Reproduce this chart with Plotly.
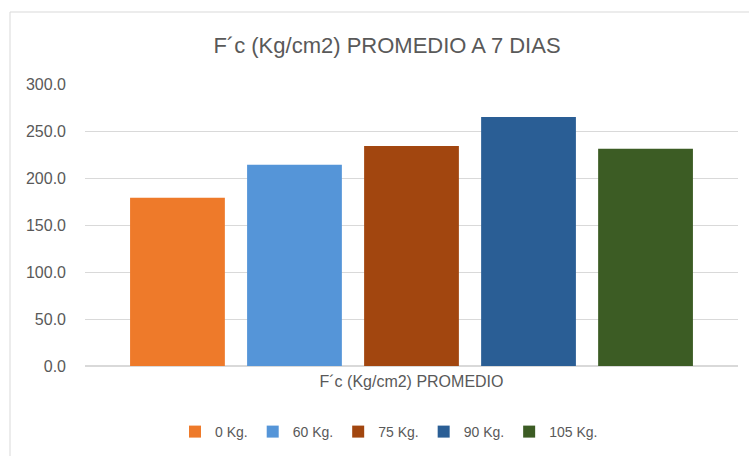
import plotly.graph_objects as go

categories = ["F´c (Kg/cm2) PROMEDIO"]
series_names = ["0 Kg.", "60 Kg.", "75 Kg.", "90 Kg.", "105 Kg."]
series_values = [179.0, 214.0, 234.0, 265.0, 231.0]
colors = ["#EE7A2A", "#5595D8", "#A2460F", "#2A5E95", "#3C5C24"]
y_ticks = [0, 50, 100, 150, 200, 250, 300]

FONT = "Liberation Sans, Arial, sans-serif"
GRAY = "#595959"

fig = go.Figure()
for name, val, col in zip(series_names, series_values, colors):
    fig.add_trace(go.Bar(
        name=name, x=categories, y=[val],
        marker=dict(color=col, line=dict(width=0)),
    ))

L, R, T, B = 85, 11, 84, 90
W, H = 749, 456
pw, ph = W - L - R, H - T - B

def px_x(x):
    return (x - L) / pw

def px_y(y):
    return 1 - (y - T) / ph

fig.update_layout(
    width=W, height=H,
    margin=dict(l=L, r=R, t=T, b=B, autoexpand=False),
    paper_bgcolor="white", plot_bgcolor="white",
    barmode="group", bargap=0.104, bargroupgap=0.19,
    font=dict(family=FONT, color=GRAY, size=15),
    title=dict(text="F´c (Kg/cm2) PROMEDIO A 7 DIAS", x=387 / W, xref="container",
               xanchor="center", y=1 - 45 / H, yref="container", yanchor="middle",
               font=dict(size=22, color=GRAY, family=FONT)),
    showlegend=True,
    legend=dict(orientation="h", x=389 / W, xref="container", xanchor="center",
                y=1 - 432 / H, yref="container", yanchor="middle",
                font=dict(size=14, color=GRAY),
                itemwidth=30, traceorder="normal", tracegroupgap=0),
    shapes=[dict(type="rect", xref="paper", yref="paper",
                 x0=px_x(10), x1=px_x(770), y0=px_y(470), y1=px_y(12),
                 line=dict(color="#D9D9D9", width=1), layer="below")],
)
fig.update_yaxes(range=[0, 300], tickvals=y_ticks, tickformat=".1f", automargin=False,
                 showgrid=True, gridcolor="#D9D9D9", gridwidth=1,
                 zeroline=True, zerolinecolor="#D9D9D9", showline=False,
                 ticklabelstandoff=18, tickfont=dict(size=16, color=GRAY))
fig.update_xaxes(showgrid=False, showline=False, automargin=False,
                 ticklabelstandoff=4, tickfont=dict(size=16, color=GRAY))

fig.write_html("out.html", config={"displayModeBar": False},
               post_script="document.body.style.margin='0';")
